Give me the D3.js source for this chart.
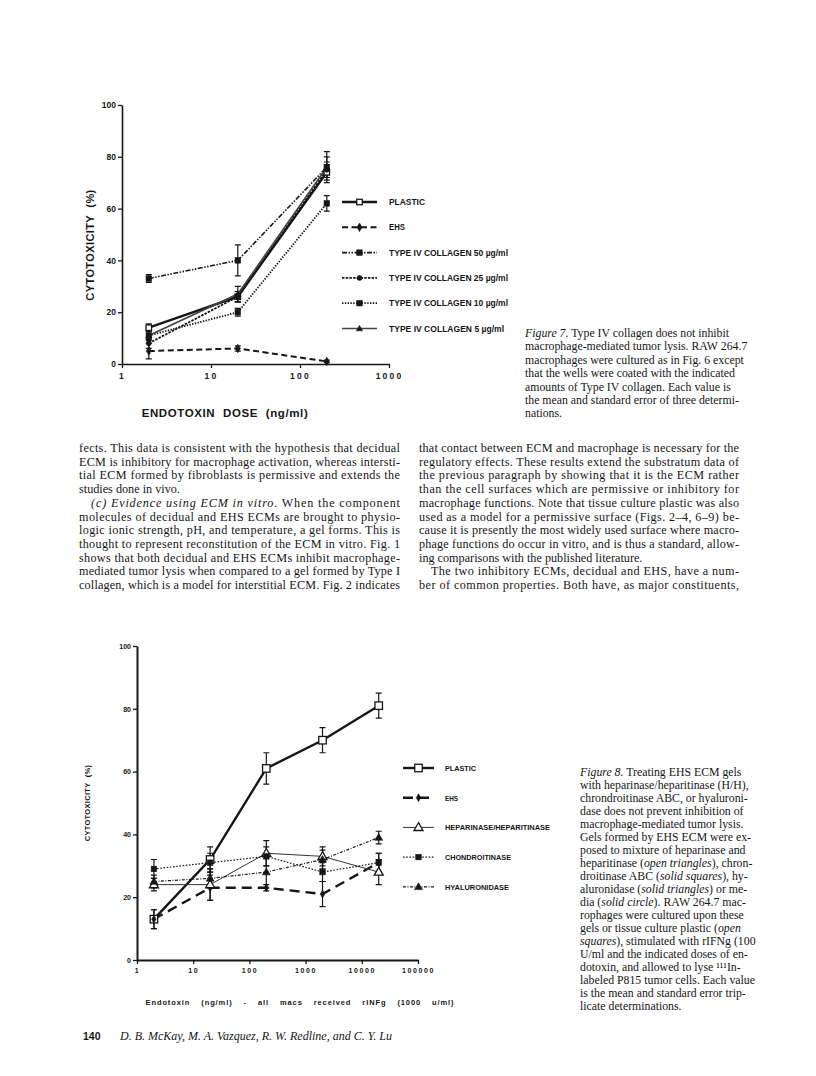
<!DOCTYPE html>
<html>
<head>
<meta charset="utf-8">
<script src="https://cdn.jsdelivr.net/npm/d3@7"></script>
<style>
body { margin: 0; background: #fff; }
svg { display: block; }
.serif { font-family: "Liberation Serif", "Times New Roman", serif; fill: #161616; }
.sans  { font-family: "Liberation Sans", Arial, sans-serif; font-weight: bold; fill: #161616; }
</style>
</head>
<body>
<svg id="page" width="816" height="1076"></svg>
<script>
"use strict";

// ---- Figure 7 data (endotoxin ng/ml vs % cytotoxicity) ----
var fig7Dose = [2, 20, 200];
var fig7Labels = ["PLASTIC", "EHS", "TYPE IV COLLAGEN 50 \u00b5g/ml", "TYPE IV COLLAGEN 25 \u00b5g/ml",
                  "TYPE IV COLLAGEN 10 \u00b5g/ml", "TYPE IV COLLAGEN 5 \u00b5g/ml"];
var fig7Plastic = [14, 26, 74];
var fig7PlasticErr = [1.5, 2, 3];
var fig7Ehs = [5, 6, 1];
var fig7EhsErr = [3, 1, 0.5];
var fig7Col50 = [33, 40, 76];
var fig7Col50Err = [1.5, 6, 6];
var fig7Col25 = [8, 26, 75];
var fig7Col25Err = [2, 2, 3];
var fig7Col10 = [11, 20, 62];
var fig7Col10Err = [1.5, 1.5, 3];
var fig7Col5 = [11, 27, 76];
var fig7Col5Err = [2, 3, 4];
var fig7XTicks = [1, 10, 100, 1000];
var fig7YTicks = [0, 20, 40, 60, 80, 100];

// ---- Figure 8 data ----
var fig8Dose = [2, 20, 200, 2000, 20000];
var fig8Labels = ["PLASTIC", "EHS", "HEPARINASE/HEPARITINASE", "CHONDROITINASE", "HYALURONIDASE"];
var fig8Plastic = [13, 32, 61, 70, 81];
var fig8PlasticErr = [3, 4, 5, 4, 4];
var fig8Ehs = [13, 23, 23, 21, 31];
var fig8EhsErr = [3, 4, 1, 4, 3];
var fig8Hep = [24, 24, 34, 33, 28];
var fig8HepErr = [2, 5, 4, 3, 4];
var fig8Chon = [29, 31, 33, 28, 31];
var fig8ChonErr = [3, 3, 3, 3, 3];
var fig8Hyal = [25, 26, 28, 32, 39];
var fig8HyalErr = [2, 3, 5, 3, 2];
var fig8XTicks = [1, 10, 100, 1000, 10000, 100000];
var fig8YTicks = [0, 20, 40, 60, 80, 100];

// ---- page text ----
var leftCol = [
  [[["fects. This data is consistent with the hypothesis that decidual"]], true],
  [[["ECM is inhibitory for macrophage activation, whereas intersti-"]], true],
  [[["tial ECM formed by fibroblasts is permissive and extends the"]], true],
  [[["studies done in vivo."]], false],
  [[["(c) Evidence using ECM in vitro.", 1], [" When the component"]], true, 1],
  [[["molecules of decidual and EHS ECMs are brought to physio-"]], true],
  [[["logic ionic strength, pH, and temperature, a gel forms. This is"]], true],
  [[["thought to represent reconstitution of the ECM in vitro. Fig. 1"]], true],
  [[["shows that both decidual and EHS ECMs inhibit macrophage-"]], true],
  [[["mediated tumor lysis when compared to a gel formed by Type I"]], true],
  [[["collagen, which is a model for interstitial ECM. Fig. 2 indicates"]], true]
];
var rightCol = [
  [[["that contact between ECM and macrophage is necessary for the"]], true],
  [[["regulatory effects. These results extend the substratum data of"]], true],
  [[["the previous paragraph by showing that it is the ECM rather"]], true],
  [[["than the cell surfaces which are permissive or inhibitory for"]], true],
  [[["macrophage functions. Note that tissue culture plastic was also"]], true],
  [[["used as a model for a permissive surface (Figs. 2\u20134, 6\u20139) be-"]], true],
  [[["cause it is presently the most widely used surface where macro-"]], true],
  [[["phage functions do occur in vitro, and is thus a standard, allow-"]], true],
  [[["ing comparisons with the published literature."]], false],
  [[["The two inhibitory ECMs, decidual and EHS, have a num-"]], true, 1],
  [[["ber of common properties. Both have, as major constituents,"]], true]
];
var caption7 = [
  [["Figure 7.", 1], [" Type IV collagen does not inhibit"]],
  [["macrophage-mediated tumor lysis. RAW 264.7"]],
  [["macrophages were cultured as in Fig. 6 except"]],
  [["that the wells were coated with the indicated"]],
  [["amounts of Type IV collagen. Each value is"]],
  [["the mean and standard error of three determi-"]],
  [["nations."]]
];
var caption8 = [
  [["Figure 8.", 1], [" Treating EHS ECM gels"]],
  [["with heparinase/heparitinase (H/H),"]],
  [["chrondroitinase ABC, or hyaluroni-"]],
  [["dase does not prevent inhibition of"]],
  [["macrophage-mediated tumor lysis."]],
  [["Gels formed by EHS ECM were ex-"]],
  [["posed to mixture of heparinase and"]],
  [["heparitinase ("], ["open triangles", 1], ["), chron-"]],
  [["droitinase ABC ("], ["solid squares", 1], ["), hy-"]],
  [["aluronidase ("], ["solid triangles", 1], [") or me-"]],
  [["dia ("], ["solid circle", 1], ["). RAW 264.7 mac-"]],
  [["rophages were cultured upon these"]],
  [["gels or tissue culture plastic ("], ["open", 1]],
  [["squares", 1], ["), stimulated with rIFNg (100"]],
  [["U/ml and the indicated doses of en-"]],
  [["dotoxin, and allowed to lyse \u00b9\u00b9\u00b9In-"]],
  [["labeled P815 tumor cells. Each value"]],
  [["is the mean and standard error trip-"]],
  [["licate determinations."]]
];

var svg = d3.select("#page");

// write one line made of [text, italic] parts
function textLine(g, x, y, parts, size, width) {
  var t = g.append("text").attr("class", "serif")
    .attr("x", x).attr("y", y)
    .style("font-size", size + "px");
  parts.forEach(function(p) {
    t.append("tspan").text(p[0]).style("font-style", p[1] ? "italic" : "normal");
  });
  if (width) t.attr("textLength", width).attr("lengthAdjust", "spacing");
  return t;
}

function column(lines, x, y0, lh, w) {
  lines.forEach(function(l, i) {
    var ind = l[2] ? 12 : 0;
    textLine(svg, x + ind, y0 + i * lh, l[0], 12.2, l[1] ? w - ind : null);
  });
}

// marker symbols
function marker(g, kind, x, y, s) {
  var m;
  if (kind === "square" || kind === "square-open") {
    m = g.append("rect").attr("x", x - s/2).attr("y", y - s/2).attr("width", s).attr("height", s);
  } else if (kind === "circle") {
    m = g.append("circle").attr("cx", x).attr("cy", y).attr("r", s/2);
  } else if (kind === "diamond") {
    m = g.append("path").attr("d", d3.symbol(d3.symbolDiamond, s * s * 0.7)()).attr("transform", "translate(" + x + "," + y + ")");
  } else {
    m = g.append("path").attr("d", d3.symbol(d3.symbolTriangle, s * s * 0.55)()).attr("transform", "translate(" + x + "," + (y + 0.5) + ")");
  }
  var open = kind.indexOf("open") >= 0;
  m.attr("fill", open ? "#fff" : "#161616").attr("stroke", "#161616").attr("stroke-width", open ? 1.3 : 0.6);
}

function drawChart(cfg) {
  var g = svg.append("g");
  var x = cfg.x, y = cfg.y;

  // axes
  var xa = g.append("g").attr("transform", "translate(0," + y(0) + ")")
    .call(d3.axisBottom(x).tickValues(cfg.xTicks).tickSize(4).tickSizeOuter(0).tickFormat(d3.format("d")));
  var ya = g.append("g").attr("transform", "translate(" + x.range()[0] + ",0)")
    .call(d3.axisLeft(y).tickValues(cfg.yTicks).tickSize(4).tickSizeOuter(0));
  [xa, ya].forEach(function(a) {
    a.select(".domain").attr("stroke", "#161616").attr("stroke-width", cfg.axisW);
    a.selectAll(".tick line").attr("stroke", "#161616").attr("stroke-width", 1.3);
    a.selectAll("text").attr("class", "sans").attr("fill", null)
      .style("font-size", cfg.tickFont + "px").style("font-family", null);
  });
  xa.selectAll("text").attr("y", cfg.xTickDy).style("letter-spacing", cfg.xTickSpace + "px");
  ya.selectAll("text").attr("x", -6);

  // series
  cfg.series.forEach(function(s) {
    var pts = cfg.dose.map(function(d, i) { return [x(d), y(s.v[i]), s.e[i]]; });
    g.append("path").attr("d", d3.line()(pts))
      .attr("fill", "none").attr("stroke", s.color || "#161616")
      .attr("stroke-width", s.w).attr("stroke-dasharray", s.dash);
    pts.forEach(function(p, i) {
      var top = y(s.v[i] + s.e[i]), bot = y(s.v[i] - s.e[i]), c = cfg.cap;
      g.append("path").attr("fill", "none").attr("stroke", "#161616").attr("stroke-width", 1.2)
        .attr("d", "M" + p[0] + "," + top + "V" + bot + "M" + (p[0] - c) + "," + top + "h" + (2 * c) +
                   "M" + (p[0] - c) + "," + bot + "h" + (2 * c));
    });
  });
  cfg.series.forEach(function(s) {
    cfg.dose.forEach(function(d, i) { marker(g, s.m, x(d), y(s.v[i]), s.ms); });
  });

  // legend
  cfg.series.forEach(function(s, i) {
    var ly = cfg.leg.y + i * cfg.leg.dy;
    g.append("line").attr("x1", cfg.leg.x1).attr("x2", cfg.leg.x2).attr("y1", ly).attr("y2", ly)
      .attr("stroke", s.color || "#161616").attr("stroke-width", s.w).attr("stroke-dasharray", s.dash);
    marker(g, s.m, (cfg.leg.x1 + cfg.leg.x2) / 2, ly, s.ms);
    var t = g.append("text").attr("class", "sans").attr("x", cfg.leg.tx).attr("y", ly + 3)
      .style("font-size", cfg.leg.font + "px").text(s.name);
    if (cfg.leg.tl) t.attr("textLength", cfg.leg.tl[i]).attr("lengthAdjust", "spacingAndGlyphs");
  });

  // axis titles
  g.append("text").attr("class", "sans").attr("x", cfg.xt.x).attr("y", cfg.xt.y)
    .attr("text-anchor", "middle").style("font-size", cfg.xt.font + "px")
    .style("letter-spacing", cfg.xt.sp + "px").style("word-spacing", cfg.xt.ws + "px").text(cfg.xt.text);
  g.append("text").attr("class", "sans")
    .attr("transform", "translate(" + cfg.yt.x + "," + cfg.yt.y + ") rotate(-90)")
    .attr("text-anchor", "middle").style("font-size", cfg.yt.font + "px")
    .style("letter-spacing", cfg.yt.sp + "px").style("word-spacing", cfg.yt.ws + "px").text(cfg.yt.text);
  return g;
}

// ---- Figure 7 ----
var x7 = d3.scaleLog().domain([1, 1000]).range([122, 389]);
var y7 = d3.scaleLinear().domain([0, 100]).range([364, 105]);
drawChart({
  x: x7, y: y7, dose: fig7Dose, xTicks: fig7XTicks, yTicks: fig7YTicks,
  axisW: 1.6, tickFont: 8.5, xTickDy: 9, xTickSpace: 2.2, cap: 3,
  series: [
    { name: fig7Labels[0], v: fig7Plastic, e: fig7PlasticErr, w: 2.4, dash: null, m: "square-open", ms: 5.5 },
    { name: fig7Labels[1], v: fig7Ehs, e: fig7EhsErr, w: 2, dash: "6,3.5", m: "diamond", ms: 5.5 },
    { name: fig7Labels[2], v: fig7Col50, e: fig7Col50Err, w: 1.6, dash: "5,1.5,1.5,1.5,1.5,1.5", m: "square", ms: 5.5 },
    { name: fig7Labels[3], v: fig7Col25, e: fig7Col25Err, w: 1.8, dash: "2.5,1.2", m: "circle", ms: 5 },
    { name: fig7Labels[4], v: fig7Col10, e: fig7Col10Err, w: 1.8, dash: "1.4,1.4", m: "square", ms: 5.5 },
    { name: fig7Labels[5], v: fig7Col5, e: fig7Col5Err, w: 1.7, dash: null, m: "triangle", ms: 5.5, color: "#444" }
  ],
  leg: { x1: 342, x2: 377, tx: 389, y: 202, dy: 25.3, font: 8.5, tl: [36, 16, 119, 119, 119, 115] },
  xt: { x: 225, y: 417, font: 11.5, sp: 0.6, ws: 4, text: "ENDOTOXIN DOSE (ng/ml)" },
  yt: { x: 94, y: 245, font: 11, sp: 0.4, ws: 4, text: "CYTOTOXICITY (%)" }
});

// ---- Figure 8 ----
var x8 = d3.scaleLog().domain([1, 100000]).range([137, 418]);
var y8 = d3.scaleLinear().domain([0, 100]).range([960, 646]);
drawChart({
  x: x8, y: y8, dose: fig8Dose, xTicks: fig8XTicks, yTicks: fig8YTicks,
  axisW: 2, tickFont: 7, xTickDy: 8, xTickSpace: 1.6, cap: 3,
  series: [
    { name: fig8Labels[0], v: fig8Plastic, e: fig8PlasticErr, w: 2.4, dash: null, m: "square-open", ms: 7.5 },
    { name: fig8Labels[1], v: fig8Ehs, e: fig8EhsErr, w: 2.4, dash: "10,6", m: "diamond", ms: 5 },
    { name: fig8Labels[2], v: fig8Hep, e: fig8HepErr, w: 1, dash: null, m: "triangle-open", ms: 8, color: "#333" },
    { name: fig8Labels[3], v: fig8Chon, e: fig8ChonErr, w: 1.2, dash: "1.6,1.6", m: "square", ms: 5.5 },
    { name: fig8Labels[4], v: fig8Hyal, e: fig8HyalErr, w: 1.2, dash: "3,1.5,1,1.5", m: "triangle", ms: 7 }
  ],
  leg: { x1: 403, x2: 434, tx: 445, y: 768, dy: 29.7, font: 7, tl: [31, 13, 105, 66, 64] },
  xt: { x: 300, y: 1005, font: 7.5, sp: 0.9, ws: 8, text: "Endotoxin (ng/ml) - all macs received rINFg (1000 u/ml)" },
  yt: { x: 90, y: 803, font: 7.5, sp: 0.3, ws: 3, text: "CYTOTOXICITY (%)" }
});

// ---- text ----
column(leftCol, 79, 452, 13.7, 321);
column(rightCol, 419, 452, 13.7, 320);
caption7.forEach(function(l, i) { textLine(svg, 525, 337 + i * 13.4, l, 11.8); });
caption8.forEach(function(l, i) { textLine(svg, 580, 776 + i * 13, l, 11.8); });

// footer
svg.append("text").attr("class", "sans").attr("x", 83).attr("y", 1040).style("font-size", "10.5px").text("140");
textLine(svg, 120, 1040, [["D. B. McKay, M. A. Vazquez, R. W. Redline, and C. Y. Lu", 1]], 12);
</script>
</body>
</html>
